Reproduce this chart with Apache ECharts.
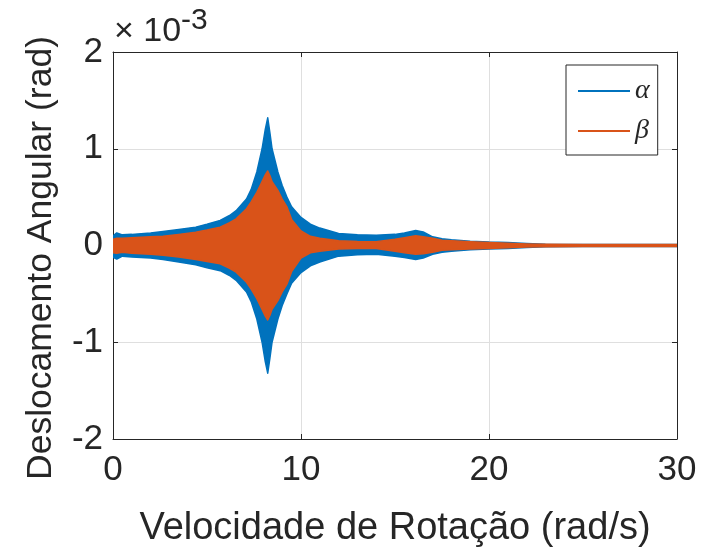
<!DOCTYPE html>
<html>
<head>
<meta charset="utf-8">
<script src="https://cdn.jsdelivr.net/npm/echarts@6/dist/echarts.min.js"></script>
<style>
  html, body { margin: 0; padding: 0; background: #fff; }
  #chart { width: 725px; height: 547px; }
</style>
</head>
<body>
<div id="chart"></div>
<script>
// envelope of the oscillating response, values in 1e-3 rad
const speeds = [0, 0.2, 0.5, 1, 2, 2.66, 3.5, 4.4, 5, 5.7, 6.2, 6.55, 7.1, 7.35, 7.65, 7.93, 8.1, 8.23, 8.35, 8.46, 8.77, 9.0, 9.25, 9.5, 10, 10.5, 11, 12, 13, 14, 15, 15.5, 16.1, 16.5, 17, 17.5, 18, 19, 20, 21, 22, 23, 25, 30];
const alphaUpper = [0.10, 0.13, 0.11, 0.115, 0.13, 0.145, 0.165, 0.19, 0.22, 0.26, 0.31, 0.36, 0.48, 0.58, 0.76, 1.0, 1.2, 1.32, 1.16, 1.0, 0.76, 0.62, 0.5, 0.4, 0.29, 0.22, 0.18, 0.125, 0.11, 0.105, 0.115, 0.13, 0.155, 0.14, 0.09, 0.07, 0.06, 0.045, 0.035, 0.03, 0.02, 0.012, 0.01, 0.01];
const alphaLower = [-0.12, -0.14, -0.11, -0.12, -0.13, -0.145, -0.17, -0.2, -0.23, -0.26, -0.31, -0.36, -0.48, -0.58, -0.76, -1.0, -1.2, -1.32, -1.16, -1.0, -0.76, -0.62, -0.5, -0.39, -0.28, -0.21, -0.17, -0.11, -0.095, -0.09, -0.11, -0.125, -0.145, -0.13, -0.09, -0.07, -0.06, -0.045, -0.035, -0.03, -0.02, -0.012, -0.01, -0.01];
const betaUpper = [0.065, 0.075, 0.075, 0.08, 0.09, 0.096, 0.115, 0.137, 0.16, 0.19, 0.235, 0.275, 0.38, 0.45, 0.55, 0.66, 0.73, 0.77, 0.72, 0.66, 0.57, 0.48, 0.40, 0.27, 0.15, 0.095, 0.075, 0.05, 0.042, 0.04, 0.065, 0.08, 0.10, 0.09, 0.075, 0.055, 0.05, 0.04, 0.03, 0.022, 0.015, 0.012, 0.01, 0.01];
const betaLower = [-0.075, -0.08, -0.07, -0.08, -0.09, -0.10, -0.12, -0.144, -0.165, -0.19, -0.235, -0.275, -0.38, -0.45, -0.55, -0.66, -0.73, -0.77, -0.72, -0.66, -0.57, -0.48, -0.40, -0.27, -0.13, -0.075, -0.06, -0.035, -0.03, -0.03, -0.06, -0.075, -0.09, -0.085, -0.07, -0.05, -0.045, -0.035, -0.03, -0.022, -0.015, -0.012, -0.01, -0.01];

const xTicks = [0, 10, 20, 30];
const yTicks = [-2, -1, 0, 1, 2];

const AXIS_COLOR = '#262626';
const GRID_COLOR = '#dfdfdf';
const FONT = '"Liberation Sans", Arial, sans-serif';

// polygon between lower and upper envelope, placed through the axes
const bandSeries = (name, color, upper, lower) => ({
  name,
  type: 'custom',
  clip: true,
  data: speeds.map((x, i) => [x, lower[i], upper[i]]),
  itemStyle: { color },
  renderItem: (params, api) => {
    if (params.dataIndex !== 0) return null;
    const top = speeds.map((x, i) => api.coord([x, upper[i]]));
    const bottom = speeds.map((x, i) => api.coord([x, lower[i]])).reverse();
    return {
      type: 'polygon',
      shape: { points: top.concat(bottom) },
      style: { fill: color, stroke: color, lineWidth: 1.5, lineJoin: 'round' },
    };
  },
});

const chart = echarts.init(document.getElementById('chart'));

const axisCommon = {
  axisLine: { show: true, onZero: false, lineStyle: { color: AXIS_COLOR, width: 1 } },
  axisTick: { show: true, inside: true, length: 5, lineStyle: { color: AXIS_COLOR } },
};

chart.setOption({
  animation: false,
  grid: { left: 113, right: 48, top: 52, bottom: 108, outerBoundsMode: 'none', containLabel: false },
  legend: {
    orient: 'vertical',
    left: 566,
    top: 65,
    padding: [12, 8, 10, 12],
    itemWidth: 52,
    itemHeight: 2,
    itemGap: 12,
    backgroundColor: '#fff',
    borderColor: AXIS_COLOR,
    borderWidth: 1,
    data: [
      { name: 'α', icon: 'rect' },
      { name: 'β', icon: 'rect' },
    ],
    textStyle: {
      fontFamily: '"Liberation Serif", "DejaVu Serif", serif',
      fontStyle: 'italic',
      fontSize: 28,
      color: AXIS_COLOR,
      lineHeight: 28,
    },
  },
  graphic: [
    // exponent label above the y axis
    {
      type: 'text',
      x: 114,
      y: 32,
      style: { text: '× 10', fontFamily: FONT, fontSize: 34, fill: AXIS_COLOR, verticalAlign: 'middle' },
    },
    {
      type: 'text',
      x: 181,
      y: 21,
      style: { text: '-3', fontFamily: FONT, fontSize: 30, fill: AXIS_COLOR, verticalAlign: 'middle' },
    },
    // y axis title
    {
      type: 'text',
      x: 41,
      y: 258,
      rotation: Math.PI / 2,
      style: {
        text: 'Deslocamento Angular (rad)',
        fontFamily: FONT,
        fontSize: 35.5,
        fill: AXIS_COLOR,
        align: 'center',
        verticalAlign: 'middle',
      },
    },
  ],
  xAxis: [
    {
      type: 'value',
      min: 0,
      max: 30,
      interval: 10,
      position: 'bottom',
      name: 'Velocidade de Rotação (rad/s)',
      nameLocation: 'middle',
      nameGap: 71,
      nameTextStyle: { fontFamily: FONT, fontSize: 38, color: AXIS_COLOR },
      ...axisCommon,
      axisLabel: {
        margin: 14,
        fontFamily: FONT,
        fontSize: 35,
        color: AXIS_COLOR,
        customValues: xTicks,
      },
      splitLine: { show: true, lineStyle: { color: GRID_COLOR, width: 1 } },
    },
    {
      type: 'value',
      min: 0,
      max: 30,
      interval: 10,
      position: 'top',
      ...axisCommon,
      axisLabel: { show: false },
      splitLine: { show: false },
    },
  ],
  yAxis: [
    {
      type: 'value',
      min: -2,
      max: 2,
      interval: 1,
      position: 'left',
      ...axisCommon,
      axisLabel: {
        margin: 10,
        fontFamily: FONT,
        fontSize: 35,
        color: AXIS_COLOR,
        customValues: yTicks,
      },
      splitLine: { show: true, lineStyle: { color: GRID_COLOR, width: 1 } },
    },
    {
      type: 'value',
      min: -2,
      max: 2,
      interval: 1,
      position: 'right',
      ...axisCommon,
      axisLabel: { show: false },
      splitLine: { show: false },
    },
  ],
  series: [
    bandSeries('α', '#0072bd', alphaUpper, alphaLower),
    bandSeries('β', '#d95319', betaUpper, betaLower),
  ],
});
</script>
</body>
</html>
